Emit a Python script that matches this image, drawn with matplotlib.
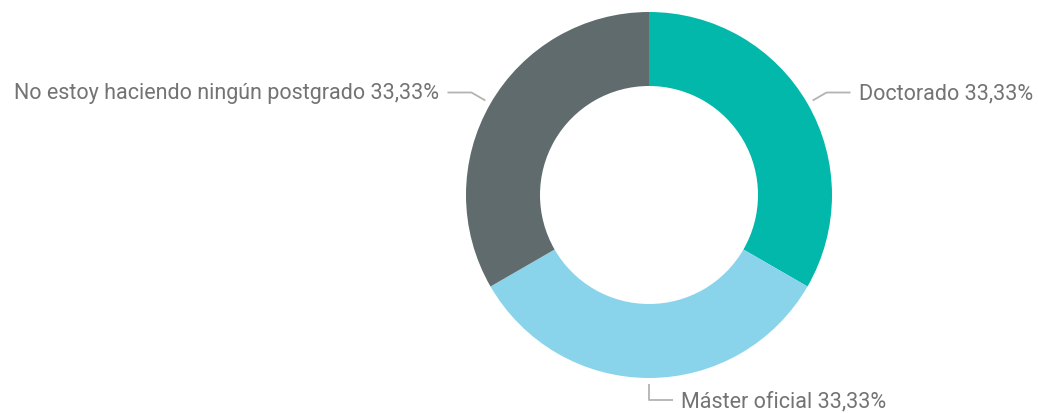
import numpy as np
import matplotlib.pyplot as plt

labels = ['Doctorado', 'Máster oficial', 'No estoy haciendo ningún postgrado']
values = [33.33, 33.33, 33.33]
colors = ['#01B8AA', '#8AD4EB', '#5F6B6D']

W, H = 1038, 413
fig = plt.figure(figsize=(W / 100, H / 100), dpi=100)
ax = fig.add_axes([0, 0, 1, 1])
ax.set_xlim(0, W)
ax.set_ylim(0, H)
ax.set_aspect('equal')
ax.axis('off')

cx, cy, r = 649, H - 195, 183
wedges, _ = ax.pie(values, colors=colors, startangle=90, counterclock=False,
                   radius=r, center=(cx, cy),
                   wedgeprops=dict(width=74, linewidth=0))
ax.set_xlim(0, W)
ax.set_ylim(0, H)

total = sum(values)
for w, lab, v in zip(wedges, labels, values):
    ang = np.deg2rad((w.theta1 + w.theta2) / 2)
    ca, sa = np.cos(ang), np.sin(ang)
    x0, y0 = cx + (r + 6) * ca, cy + (r + 6) * sa
    x1, y1 = cx + (r + 22) * ca, cy + (r + 22) * sa
    if abs(ca) < 0.1:
        x1 = x0
    side = 1 if ca >= -0.1 else -1
    x2 = x1 + side * 24
    ax.plot([x0, x1, x2], [y0, y1, y1], color='#B3B3B3', lw=1.3,
            solid_capstyle='butt')
    txt = f"{lab} {v / total * 100:.2f}%".replace('.', ',')
    ax.text(x2 + side * 8, y1 - 1.5, txt, ha='left' if side > 0 else 'right',
            va='center', fontsize=15.5, color='#737373', family='Roboto')

fig.savefig('out.png', dpi=100)
